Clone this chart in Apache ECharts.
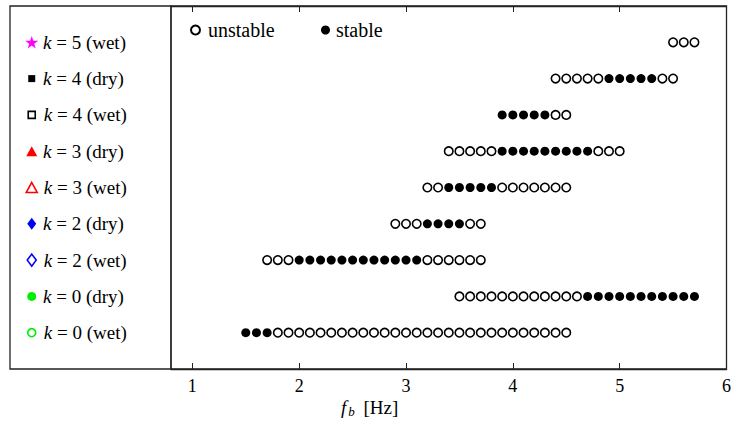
<!DOCTYPE html>
<html>
<head>
<meta charset="utf-8">
<script src="https://cdn.jsdelivr.net/npm/echarts@6.0.0/dist/echarts.min.js"></script>
<style>
  html, body { margin: 0; padding: 0; background: #fff; }
  #main { width: 734px; height: 422px; }
</style>
</head>
<body>
<div id="main"></div>
<script>
// tick labels of the frequency axis
var xTicks = [1, 2, 3, 4, 5, 6];

// rows, bottom to top
var rowNames = ['k=0 (wet)', 'k=0 (dry)', 'k=2 (wet)', 'k=2 (dry)', 'k=3 (wet)',
                'k=3 (dry)', 'k=4 (wet)', 'k=4 (dry)', 'k=5 (wet)'];
var rowY = [1, 2, 3, 4, 5, 6, 7, 8, 9];

// f_b [Hz] of each computed point, split into unstable / stable
var k0WetStable = [1.5, 1.6, 1.7];
var k0WetUnstable = [1.8, 1.9, 2.0, 2.1, 2.2, 2.3, 2.4, 2.5, 2.6, 2.7, 2.8, 2.9, 3.0, 3.1,
                     3.2, 3.3, 3.4, 3.5, 3.6, 3.7, 3.8, 3.9, 4.0, 4.1, 4.2, 4.3, 4.4, 4.5];
var k0DryUnstable = [3.5, 3.6, 3.7, 3.8, 3.9, 4.0, 4.1, 4.2, 4.3, 4.4, 4.5, 4.6];
var k0DryStable = [4.7, 4.8, 4.9, 5.0, 5.1, 5.2, 5.3, 5.4, 5.5, 5.6, 5.7];
var k2WetUnstable = [1.7, 1.8, 1.9, 3.2, 3.3, 3.4, 3.5, 3.6, 3.7];
var k2WetStable = [2.0, 2.1, 2.2, 2.3, 2.4, 2.5, 2.6, 2.7, 2.8, 2.9, 3.0, 3.1];
var k2DryUnstable = [2.9, 3.0, 3.1, 3.6, 3.7];
var k2DryStable = [3.2, 3.3, 3.4, 3.5];
var k3WetUnstable = [3.2, 3.3, 3.9, 4.0, 4.1, 4.2, 4.3, 4.4, 4.5];
var k3WetStable = [3.4, 3.5, 3.6, 3.7, 3.8];
var k3DryUnstable = [3.4, 3.5, 3.6, 3.7, 3.8, 4.8, 4.9, 5.0];
var k3DryStable = [3.9, 4.0, 4.1, 4.2, 4.3, 4.4, 4.5, 4.6, 4.7];
var k4WetUnstable = [4.4, 4.5];
var k4WetStable = [3.9, 4.0, 4.1, 4.2, 4.3];
var k4DryUnstable = [4.4, 4.5, 4.6, 4.7, 4.8, 5.4, 5.5];
var k4DryStable = [4.9, 5.0, 5.1, 5.2, 5.3];
var k5WetUnstable = [5.5, 5.6, 5.7];
var k5WetStable = [];

var unstableRows = [k0WetUnstable, k0DryUnstable, k2WetUnstable, k2DryUnstable, k3WetUnstable,
                    k3DryUnstable, k4WetUnstable, k4DryUnstable, k5WetUnstable];
var stableRows = [k0WetStable, k0DryStable, k2WetStable, k2DryStable, k3WetStable,
                  k3DryStable, k4WetStable, k4DryStable, k5WetStable];

var serif = "'Liberation Serif', 'DejaVu Serif', serif";

var starPath = 'path://M50 0L61.23 34.55L97.55 34.55L68.17 55.9L79.39 90.45L50 69.1L20.61 90.45L31.83 55.9L2.45 34.55L38.77 34.55Z';

// marker used for each row in the left key
var keyMarks = [
  { symbol: 'circle', size: 8, color: '#00ee00', open: true },
  { symbol: 'circle', size: 9, color: '#00ee00', open: false },
  { symbol: 'diamond', size: [9, 12], color: '#0000ff', open: true },
  { symbol: 'diamond', size: [9, 12], color: '#0000ff', open: false },
  { symbol: 'triangle', size: [11, 10], color: '#ff0000', open: true },
  { symbol: 'triangle', size: [11, 10], color: '#ff0000', open: false },
  { symbol: 'rect', size: 7, color: '#000000', open: true },
  { symbol: 'rect', size: 7, color: '#000000', open: false },
  { symbol: starPath, size: 13, color: '#ff00ff', open: false }
];

var toPoints = function(rows) {
  var pts = [];
  for (var i = 0; i < rows.length; i++) {
    for (var j = 0; j < rows[i].length; j++) {
      pts.push([rows[i][j], rowY[i]]);
    }
  }
  return pts;
};

var keyX = 0.135;
var labelStart = 43;

var series = [{
  name: 'unstable',
  type: 'scatter',
  xAxisIndex: 0,
  yAxisIndex: 0,
  symbol: 'circle',
  symbolSize: 8.5,
  itemStyle: { color: '#ffffff', borderColor: '#000000', borderWidth: 1.6, opacity: 1 },
  data: toPoints(unstableRows)
}, {
  name: 'stable',
  type: 'scatter',
  xAxisIndex: 0,
  yAxisIndex: 0,
  symbol: 'circle',
  symbolSize: 9,
  itemStyle: { color: '#000000', opacity: 1 },
  data: toPoints(stableRows)
}];

for (var i = 0; i < rowNames.length; i++) {
  var m = keyMarks[i];
  var w = (m.size instanceof Array) ? m.size[0] : m.size;
  series.push({
    name: rowNames[i],
    type: 'scatter',
    xAxisIndex: 1,
    yAxisIndex: 1,
    symbol: m.symbol,
    symbolSize: m.size,
    symbolKeepAspect: true,
    silent: true,
    itemStyle: m.open
      ? { color: '#ffffff', borderColor: m.color, borderWidth: 1.6, opacity: 1 }
      : { color: m.color, opacity: 1 },
    label: {
      show: true,
      position: 'right',
      distance: labelStart - (10 + keyX * 161) - w / 2,
      formatter: '{i|k} = 5 (wet)'.replace('5 (wet)', rowNames[i].slice(2)),
      fontSize: 19,
      color: '#000',
      fontFamily: serif,
      rich: {
        i: { fontStyle: 'italic', fontSize: 19, fontFamily: serif }
      }
    },
    data: [[keyX, rowY[i]]]
  });
}

var myChart = echarts.init(document.getElementById('main'), null, { renderer: 'svg' });

var option = {
  animation: false,
  textStyle: { fontFamily: serif, color: '#000' },
  title: {
    text: '{i|f}{s|b} [Hz]',
    left: 336,
    top: 391,
    textStyle: {
      fontSize: 19,
      fontWeight: 'normal',
      fontFamily: serif,
      color: '#000',
      rich: {
        i: { fontStyle: 'italic', fontSize: 19, fontFamily: serif, padding: [0, 2, 0, 0] },
        s: { fontStyle: 'italic', fontSize: 13, fontFamily: serif, padding: [9, 4, 0, 0] }
      }
    }
  },
  legend: [{
    data: ['unstable'],
    left: 185,
    top: 15,
    itemWidth: 15,
    itemHeight: 9,
    selectedMode: false,
    textStyle: { fontSize: 20, fontFamily: serif, color: '#000' }
  }, {
    data: ['stable'],
    left: 316,
    top: 15,
    itemWidth: 11,
    itemHeight: 9,
    selectedMode: false,
    textStyle: { fontSize: 20, fontFamily: serif, color: '#000' }
  }],
  grid: [{
    left: 171,
    right: 5,
    top: 6,
    bottom: 53,
    show: true,
    borderColor: '#222',
    borderWidth: 1.3
  }, {
    left: 10,
    width: 161,
    top: 6,
    bottom: 53,
    show: true,
    borderColor: '#222',
    borderWidth: 1.3
  }],
  xAxis: [{
    type: 'value',
    gridIndex: 0,
    min: 0.8,
    max: 6,
    position: 'bottom',
    axisLine: { show: true, lineStyle: { color: '#222', width: 1.3 } },
    axisTick: { show: true, inside: true, length: 6, customValues: xTicks, lineStyle: { color: '#222' } },
    axisLabel: { show: true, customValues: xTicks, fontSize: 18, color: '#000', margin: 8, fontFamily: serif },
    splitLine: { show: false }
  }, {
    type: 'value',
    gridIndex: 1,
    min: 0,
    max: 1,
    show: false
  }, {
    type: 'value',
    gridIndex: 0,
    min: 0.8,
    max: 6,
    position: 'top',
    axisLine: { show: true, lineStyle: { color: '#222', width: 1.3 } },
    axisTick: { show: true, inside: true, length: 6, customValues: xTicks, lineStyle: { color: '#222' } },
    axisLabel: { show: false },
    splitLine: { show: false }
  }],
  yAxis: [{
    type: 'value',
    gridIndex: 0,
    min: 0,
    max: 10,
    show: false
  }, {
    type: 'value',
    gridIndex: 1,
    min: 0,
    max: 10,
    show: false
  }],
  series: series
};

myChart.setOption(option);
</script>
</body>
</html>
